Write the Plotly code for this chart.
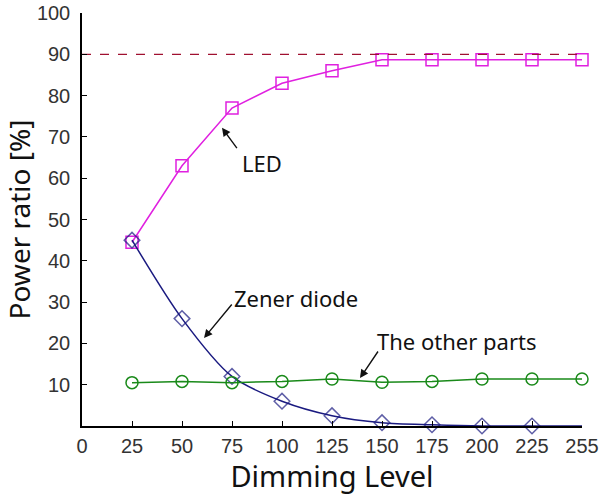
import plotly.graph_objects as go

tick_labels = ["0", "25", "50", "75", "100", "125", "150", "175", "200", "225", "255"]
dimming = ["25", "50", "75", "100", "125", "150", "175", "200", "225", "255"]
led = [44.5, 63, 77, 83, 86, 88.7, 88.7, 88.7, 88.7, 88.7]
zener = [45, 26, 12, 6, 2.5, 0.8, 0.3, 0, 0, 0]
other = [10.5, 10.8, 10.5, 10.8, 11.4, 10.6, 10.8, 11.4, 11.4, 11.4]
limit = 90

fig = go.Figure()
fig.add_trace(go.Scatter(x=dimming, y=led, mode="lines+markers",
    line=dict(color="#e020e0", width=1.5),
    marker=dict(symbol="square-open", size=12, color="#e020e0", line=dict(width=1.5)),
    cliponaxis=False, showlegend=False))
fig.add_trace(go.Scatter(x=dimming, y=zener, mode="lines+markers",
    line=dict(color="#1a1a80", width=1.5, shape="spline", smoothing=0.8),
    marker=dict(symbol="diamond-open", size=[12]*9 + [0], color="#1a1a80", line=dict(width=1.5)),
    cliponaxis=False, showlegend=False))
fig.add_trace(go.Scatter(x=dimming, y=other, mode="lines+markers",
    line=dict(color="#1a8a1a", width=1.5),
    marker=dict(symbol="circle-open", size=12, color="#1a8a1a", line=dict(width=1.5)),
    cliponaxis=False, showlegend=False))
fig.add_trace(go.Scatter(x=[tick_labels[0], tick_labels[-1]], y=[limit, limit], mode="lines",
    line=dict(color="#a01030", width=1.3, dash="dash"), showlegend=False, hoverinfo="skip"))

anno_font = dict(family="Noto Sans, Open Sans, sans-serif", size=22, color="#111")
annos = [
    ("LED", 3.16, 63.8, 2.8, 72.2, 3.12, 66.9),
    ("Zener diode", 3.0, 31.0, 2.44, 21.3, 3.02, 29.8),
    ("The other parts", 5.86, 20.6, 5.56, 11.6, 5.94, 18.4),
]
for text, tx, ty, hx, hy, ax, ay in annos:
    fig.add_annotation(x=tx, y=ty, text=text, showarrow=False, xanchor="left",
                       yanchor="middle", font=anno_font)
    fig.add_annotation(x=hx, y=hy, ax=ax, ay=ay, xref="x", yref="y", axref="x", ayref="y",
                       text="", showarrow=True, arrowhead=2, arrowsize=1.2, arrowwidth=1.4,
                       arrowcolor="#111")

fig.update_layout(
    width=599, height=495,
    margin=dict(l=82, r=17, t=13, b=69, autoexpand=False),
    plot_bgcolor="white", paper_bgcolor="white",
    font=dict(family="Liberation Sans, Arial, sans-serif", color="#222"),
    xaxis=dict(type="category", categoryarray=tick_labels, categoryorder="array",
               range=[0, 10], tickvals=tick_labels, ticktext=tick_labels,
               showline=True, linecolor="black", linewidth=1.5, showgrid=False, zeroline=False,
               ticks="inside", ticklen=5, tickcolor="black", tickfont=dict(size=20, color="#333"),
               ticklabelstandoff=1, automargin=False,
               title=dict(text="Dimming Level", font=dict(family="Noto Sans, Open Sans, sans-serif", size=29, color="#111"), standoff=0)),
    yaxis=dict(range=[0, 100], tickvals=[10, 20, 30, 40, 50, 60, 70, 80, 90, 100],
               showline=True, linecolor="black", linewidth=1.5, showgrid=False, zeroline=False,
               ticks="inside", ticklen=5, tickcolor="black", tickfont=dict(size=20, color="#333"),
               ticklabelstandoff=6, automargin=False,
               title=dict(text="Power ratio [%]", font=dict(family="Noto Sans, Open Sans, sans-serif", size=28, color="#111"), standoff=4)),
)
fig.write_html("out.html", config={"displayModeBar": False},
               post_script="document.body.style.margin='0';")
